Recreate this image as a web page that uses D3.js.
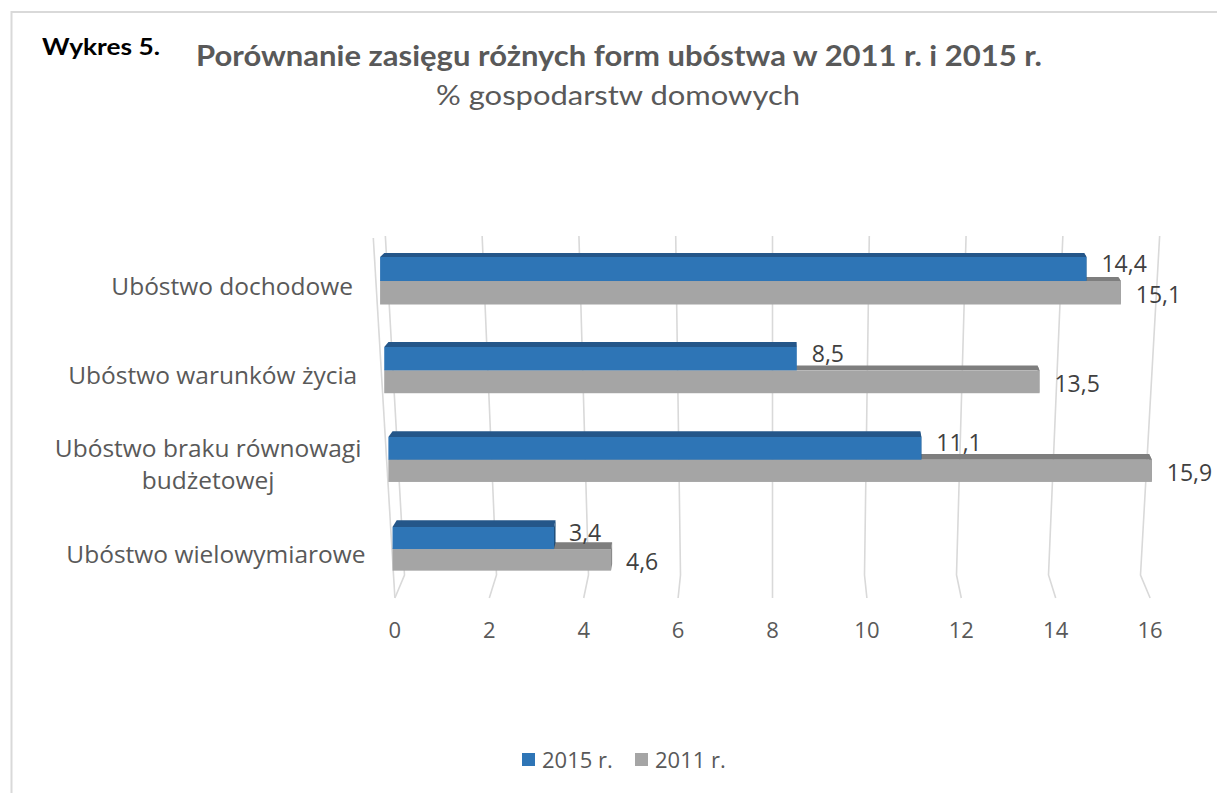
<!DOCTYPE html>
<html><head><meta charset="utf-8">
<script src="https://cdn.jsdelivr.net/npm/d3@7"></script>
<style>body{margin:0;background:#fff} svg{display:block}</style>
</head><body>
<svg id="c" width="1217" height="793"></svg>
<script>
// ---- data ----
const categories = ["Ubóstwo dochodowe", "Ubóstwo warunków życia", "Ubóstwo braku równowagi budżetowej", "Ubóstwo wielowymiarowe"];
const seriesNames = ["2015 r.", "2011 r."];
const values2015 = [14.4, 8.5, 11.1, 3.4];
const values2011 = [15.1, 13.5, 15.9, 4.6];
const xTicks = [0, 2, 4, 6, 8, 10, 12, 14, 16];
const titleText = "Porównanie zasięgu różnych form ubóstwa w 2011 r. i 2015 r.";
const subtitleText = "% gospodarstw domowych";
const figLabel = "Wykres 5.";

// ---- style ----
const BLUE = "#2E75B6", BLUE_TOP = "#245689", BLUE_END = "#1F4E79";
const GRAY = "#A5A5A5", GRAY_TOP = "#7E7E7E", GRAY_END = "#8A8A8A";
const TXT = "#595959";
const FONT = "'Open Sans', sans-serif";

const svg = d3.select("#c");
const plPL = d3.formatLocale({decimal: ",", thousands: " ", grouping: [3], currency: ["", " zł"]});
const fmt = plPL.format(".1f");

// frame
svg.append("path").attr("d", "M11.5,1000 L11.5,12 L1300,12")
  .attr("fill", "none").attr("stroke", "#D9D9D9").attr("stroke-width", 2);

// perspective helpers (library scale for value -> unit offset from centre)
const CX = 772.5;
const xUnit = d3.scaleLinear().domain([0, 16]).range([-8, 8]);
const px = (v, s) => CX + xUnit(v) * s;
const sBack = y => 48.4 - (y - 235) * (2.4 / 340);
const sSide = y => 49.9 - (y - 238) * (2.6 / 360);
const S_FLOOR = 47.2;
const BACK_TOP = 236, BACK_BOT = 575, FLOOR_Y = 598;

// back-wall gridlines + floor lines
const grid = svg.append("g").attr("fill", "none").attr("stroke", "#D9D9D9").attr("stroke-width", 1.6);
grid.selectAll("path.g").data(xTicks).join("path").attr("class", "g")
  .attr("d", v => `M${px(v, sBack(BACK_TOP))},${BACK_TOP} L${px(v, sBack(BACK_BOT))},${BACK_BOT} L${CX + xUnit(v) * S_FLOOR},${FLOOR_Y}`);
// side wall front edge
grid.append("path").attr("d", `M${px(0, sSide(238))},238 L${CX + xUnit(0) * S_FLOOR},${FLOOR_Y}`);

// tick labels
svg.append("g").selectAll("text").data(xTicks).join("text")
  .attr("x", v => CX + xUnit(v) * S_FLOOR).attr("y", 638)
  .attr("text-anchor", "middle").attr("font-family", FONT).attr("font-size", 22).attr("fill", TXT)
  .text(d => d);

// category band scale
const yBand = d3.scaleBand().domain(categories).range([235.5, 595.5]).paddingInner(0.478).paddingOuter(0.239);

const rows = categories.map((c, i) => {
  const yTop = yBand(c);
  const k = 1 - 0.0003 * (yTop - 257);
  const hB = 24 * k, hG = 23.5 * k;
  const depth = 4 + 0.01 * (yTop - 257);
  const mid = yTop + (hB + hG) / 2;
  const s = 49.05 - 0.0058 * (mid - 281);
  return {c, i, yTop, hB, hG, depth, mid, s};
});

function drawBar(g, v, y0, y1, s, depth, cFront, cTop, cEnd) {
  const sb = s * 0.993;
  const x0 = px(0, s), x1 = px(v, s);
  const bx0 = px(0, sb), bx1 = px(v, sb);
  g.append("path").attr("fill", cEnd)
    .attr("d", `M${x1},${y0} L${bx1},${y0 - depth} L${bx1},${y1 - depth} L${x1},${y1} Z`);
  g.append("path").attr("fill", cTop)
    .attr("d", `M${x0},${y0} L${x1},${y0} L${bx1},${y0 - depth} L${bx0 + 1.5},${y0 - depth} Z`);
  g.append("rect").attr("fill", cFront).attr("x", x0).attr("y", y0).attr("width", x1 - x0).attr("height", y1 - y0);
}

const bars = svg.append("g");
rows.forEach(r => {
  const g = bars.append("g");
  const yb0 = r.yTop, yb1 = r.yTop + r.hB, yg1 = yb1 + r.hG;
  drawBar(g, values2011[r.i], yb1, yg1, r.s, r.depth, GRAY, GRAY_TOP, GRAY_END);
  drawBar(g, values2015[r.i], yb0, yb1, r.s, r.depth, BLUE, BLUE_TOP, BLUE_END);
  // data labels
  g.append("text").attr("x", px(values2015[r.i], r.s) + 15).attr("y", (yb0 + yb1) / 2 - 6)
    .attr("dominant-baseline", "central").attr("font-family", FONT).attr("font-size", 23).attr("fill", "#404040")
    .text(fmt(values2015[r.i]));
  g.append("text").attr("x", px(values2011[r.i], r.s) + 15).attr("y", (yb1 + yg1) / 2 + 1)
    .attr("dominant-baseline", "central").attr("font-family", FONT).attr("font-size", 23).attr("fill", "#404040")
    .text(fmt(values2011[r.i]));
});

// category labels (wrapped)
const catG = svg.append("g").attr("font-family", FONT).attr("font-size", 24.5).attr("fill", TXT);
rows.forEach(r => {
  const right = px(0, r.s) - 27;
  const t = catG.append("text");
  const words = r.c.split(" ");
  let lines = [], cur = [];
  words.forEach(w => {
    t.text([...cur, w].join(" "));
    if (cur.length && t.node().getComputedTextLength() > 335) { lines.push(cur.join(" ")); cur = [w]; }
    else cur.push(w);
  });
  lines.push(cur.join(" "));
  t.remove();
  const lh = 32;
  const base = r.mid + 14 - (lines.length - 1) * lh / 2;
  const texts = lines.map((l, j) => catG.append("text").attr("y", base + j * lh).text(l));
  const maxW = d3.max(texts, tt => tt.node().getComputedTextLength());
  if (lines.length === 1) texts[0].attr("x", right).attr("text-anchor", "end");
  else texts.forEach(tt => tt.attr("x", right - maxW / 2).attr("text-anchor", "middle"));
});

// titles
svg.append("text").attr("x", 42).attr("y", 55).attr("font-family", "Lato, sans-serif").attr("font-weight", "bold")
  .attr("font-size", 22).attr("fill", "#000").attr("textLength", 118).attr("lengthAdjust", "spacingAndGlyphs").text(figLabel);
svg.append("text").attr("x", 619).attr("y", 66).attr("text-anchor", "middle").attr("font-family", "Lato, sans-serif")
  .attr("font-weight", "bold").attr("font-size", 28).attr("fill", TXT)
  .attr("textLength", 846).attr("lengthAdjust", "spacingAndGlyphs").text(titleText);
svg.append("text").attr("x", 618).attr("y", 105).attr("text-anchor", "middle").attr("font-family", "Lato, sans-serif")
  .attr("font-size", 26).attr("fill", TXT)
  .attr("textLength", 364).attr("lengthAdjust", "spacingAndGlyphs").text(subtitleText);

// legend
const legend = svg.append("g").attr("font-family", FONT).attr("font-size", 22).attr("fill", TXT);
const legendX = [522, 635];
seriesNames.forEach((n, i) => {
  legend.append("rect").attr("x", legendX[i]).attr("y", 753).attr("width", 13).attr("height", 13).attr("fill", i === 0 ? BLUE : GRAY);
  legend.append("text").attr("x", legendX[i] + 20).attr("y", 768).text(n);
});
</script>
</body></html>
